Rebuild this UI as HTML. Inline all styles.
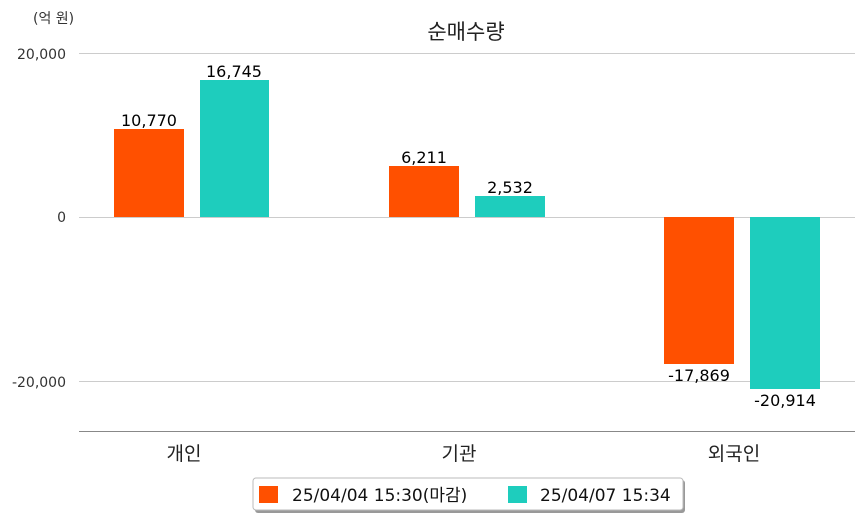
<!DOCTYPE html>
<html><head><meta charset="utf-8"><style>
body{margin:0;background:#fff;}
svg text{font-family:"DejaVu Sans","Noto Sans CJK KR",sans-serif;}
</style></head><body>
<svg width="863" height="520" xmlns="http://www.w3.org/2000/svg">
<rect width="863" height="520" fill="#fff"/>
<text x="33" y="23" font-size="14" fill="#333">(억 원)</text>
<text x="466" y="39" font-size="21" text-anchor="middle" fill="#222">순매수량</text>
<g stroke="#ccc" stroke-width="1">
<line x1="79" y1="53.5" x2="855" y2="53.5"/>
<line x1="79" y1="217.5" x2="855" y2="217.5"/>
<line x1="79" y1="381.5" x2="855" y2="381.5"/>
</g>
<line x1="79" y1="431.5" x2="855" y2="431.5" stroke="#888" stroke-width="1"/>
<g font-size="14" fill="#333" text-anchor="end">
<text x="66" y="59">20,000</text>
<text x="66" y="222">0</text>
<text x="66" y="387">-20,000</text>
</g>
<rect x="114" y="129" width="70" height="88" fill="#ff5000"/>
<rect x="200" y="80" width="69" height="137" fill="#1ecdbd"/>
<rect x="389" y="166" width="70" height="51" fill="#ff5000"/>
<rect x="475" y="196" width="70" height="21" fill="#1ecdbd"/>
<rect x="664" y="217" width="70" height="147" fill="#ff5000"/>
<rect x="750" y="217" width="70" height="172" fill="#1ecdbd"/>
<g font-size="16" fill="#000" text-anchor="middle">
<text x="149" y="126">10,770</text>
<text x="234" y="77">16,745</text>
<text x="424" y="163">6,211</text>
<text x="510" y="193">2,532</text>
<text x="699" y="381">-17,869</text>
<text x="785" y="406">-20,914</text>
</g>
<g font-size="19" fill="#222" text-anchor="middle">
<text x="184" y="460">개인</text>
<text x="459" y="460">기관</text>
<text x="734" y="460">외국인</text>
</g>
<rect x="255" y="480" width="430" height="33" fill="#999" rx="3"/>
<rect x="253" y="478" width="430" height="32" fill="#fff" stroke="#bbb" rx="3"/>
<rect x="259" y="486" width="19" height="17" fill="#ff5000"/>
<text x="292" y="501" font-size="17" fill="#111">25/04/04 15:30(마감)</text>
<rect x="508" y="486" width="19" height="17" fill="#1ecdbd"/>
<text x="540" y="501" font-size="17" fill="#111">25/04/07 15:34</text>
</svg>
</body></html>
